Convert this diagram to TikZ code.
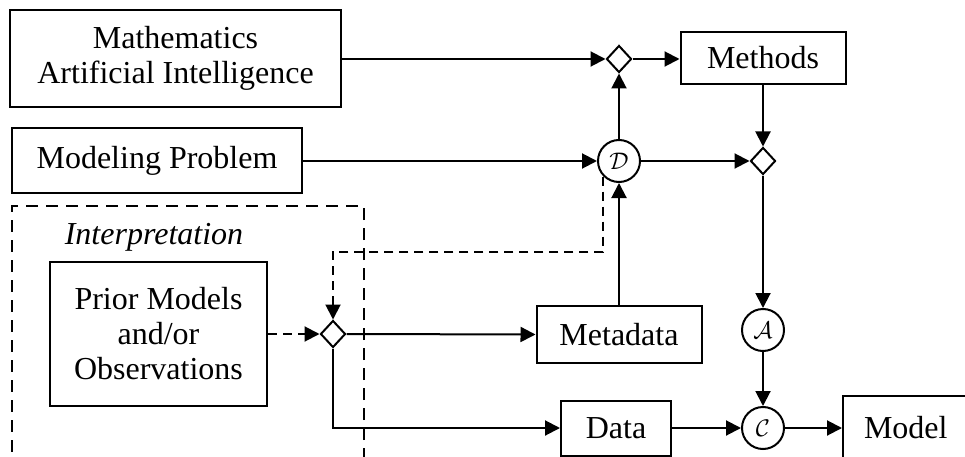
\documentclass[tikz,border=0pt]{standalone}
\usepackage{graphicx}
\usepackage{fontspec}
\setmainfont{Liberation Serif}
\usetikzlibrary{arrows.meta,shapes.geometric,calc}
\newcommand{\opsym}[1]{\scalebox{2.4}{$\mathcal{#1}$}}
\tikzset{
  box/.style={draw, line width=2pt, rectangle, inner sep=0pt, align=center, font=\fontsize{32}{35}\selectfont},
  junction/.style={draw, line width=2pt, diamond, minimum width=25pt, minimum height=27pt, inner sep=0pt},
  opnode/.style={draw, line width=2pt, circle, minimum size=42pt, inner sep=0pt, font=\normalsize},
  flow/.style={line width=2pt, -{Triangle[length=15pt,width=15pt]}},
  dflow/.style={line width=2pt, dash pattern=on 9pt off 6pt, -{Triangle[length=15pt,width=15pt]}},
  interpbox/.style={line width=2pt, dash pattern=on 12pt off 8pt},
  lbl/.style={font=\fontsize{32}{35}\selectfont\itshape, inner sep=0pt}
}
\begin{document}
\begin{tikzpicture}[x=1pt, y=-1pt]
\clip (0,0) rectangle (965,457);
\fill[white] (0,0) rectangle (965,457);

% nodes
\node[box, minimum width=331pt, minimum height=97pt] (math) at (175.5,58.5) {Mathematics\\Artificial Intelligence};
\node[box, minimum width=290pt, minimum height=65pt] (prob) at (157,160.5) {Modeling Problem};
\node[box, minimum width=165pt, minimum height=52pt] (methods) at (763,58) {Methods};
\node[box, minimum width=217pt, minimum height=144pt] (prior) at (158.5,334) {Prior Models\\and/or\\Observations};
\node[box, minimum width=165pt, minimum height=57pt] (meta) at (619,334.5) {Metadata};
\node[box, minimum width=110pt, minimum height=55pt] (data) at (616,428) {Data};
\node[box, anchor=west, minimum height=64pt, inner xsep=21pt, text width=160pt, align=left] (model) at (842,428) {Model};

\node[junction] (d1) at (619,59) {};
\node[junction] (d2) at (763,161) {};
\node[junction] (d3) at (333,334) {};

\node[opnode] (D) at (619,161) {\opsym{D}};
\node[opnode] (A) at (763,330) {\opsym{A}};
\node[opnode] (C) at (763,428) {\opsym{C}};

% interpretation region
\coordinate (itl) at (12,206);
\coordinate (ibr) at (364,480);
\draw[interpbox] (ibr) |- (itl) -- (itl |- ibr);
\node[lbl, anchor=base] (interp) at (154,244) {Interpretation};

% connectors
\draw[flow] (math.east |- d1) -- (d1.west);
\draw[flow] (d1.east) -- (d1.east -| methods.west);
\draw[flow] (prob.east |- D) -- (D.west);
\draw[flow] (D.north) -- (d1.south);
\draw[flow] (D.east) -- (d2.west);
\draw[flow] (methods.south) -- (d2.north);
\draw[flow] (d2.south) -- (A.north);
\draw[flow] (A.south) -- (C.north);
\draw[dflow] (prior.east) -- (d3.west);
\draw[dflow] (D.225) -- ++(0,75) -| (d3.north);
\draw[flow] (d3.east) -- (meta.west);
\draw[flow] (meta.north) -- (D.south);
\draw[flow] (d3.south) |- (data.west);
\draw[flow] (data.east) -- (C.west);
\draw[flow] (C.east) -- (model.west);
\end{tikzpicture}
\end{document}
